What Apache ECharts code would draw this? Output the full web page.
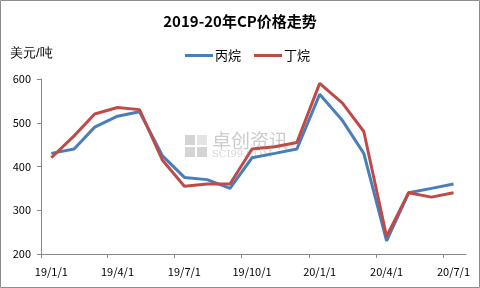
<!DOCTYPE html>
<html>
<head>
<meta charset="utf-8">
<script src="https://cdn.jsdelivr.net/npm/echarts@6/dist/echarts.min.js"></script>
<style>
html,body{margin:0;padding:0;background:#fff;}
#chart{width:480px;height:288px;}
</style>
</head>
<body>
<div id="chart"></div>
<script>
// Monthly CP prices (USD/t), Jan 2019 - Jul 2020
var months = ['2019-01','2019-02','2019-03','2019-04','2019-05','2019-06','2019-07','2019-08','2019-09','2019-10','2019-11','2019-12',
              '2020-01','2020-02','2020-03','2020-04','2020-05','2020-06','2020-07'];
var propane = [430, 440, 490, 515, 525, 425, 375, 370, 350, 420, 430, 440, 565, 505, 430, 230, 340, 350, 360];
var butane  = [420, 470, 520, 535, 530, 415, 355, 360, 360, 440, 445, 455, 590, 545, 480, 240, 340, 330, 340];
var tickDates = ['2019-01-01','2019-04-01','2019-07-01','2019-10-01','2020-01-01','2020-04-01','2020-07-01'];
var tickLabels = ['19/1/1','19/4/1','19/7/1','19/10/1','20/1/1','20/4/1','20/7/1'];
var seriesNames = ['丙烷','丁烷'];
var titleText = '2019-20年CP价格走势';
var unitText = '美元/吨';

var DAY = 86400000;
function ts(s){ var p = s.split('-'); return Date.UTC(+p[0], +p[1]-1, p[2] ? +p[2] : 1) / DAY; }
function mid(s){ var p = s.split('-'); return Date.UTC(+p[0], +p[1]-1, 15) / DAY; }

var tickVals = tickDates.map(ts);
var labelVals = tickDates.map(mid);
var labelMap = {};
labelVals.forEach(function(v,i){ labelMap[v] = tickLabels[i]; });

var font = '"Noto Sans CJK SC", "Noto Sans", sans-serif';
var chart = echarts.init(document.getElementById('chart'), null, {renderer:'canvas'});
chart.setOption({
  animation: false,
  backgroundColor: '#fff',
  textStyle: {fontFamily: font},
  title: {
    text: titleText, left: 'center', top: 9,
    textStyle: {fontSize: 15, fontWeight: 'bold', color: '#000', fontFamily: font}
  },
  legend: {
    data: seriesNames, top: 44, left: 180, itemWidth: 28, itemHeight: 3, itemGap: 13,
    icon: 'rect',
    textStyle: {fontSize: 13, color: '#000', fontFamily: font, padding: [0,0,0,-3]}
  },
  graphic: [
    {type: 'rect', shape: {x: 0.5, y: 0.5, width: 479, height: 287}, style: {fill: 'none', stroke: '#8c8c8c', lineWidth: 1}, silent: true, z: 100},
    {type: 'text', left: 10, top: 47, style: {text: unitText, fontSize: 13, fill: '#000', font: '13px ' + font}},
    {type: 'group', left: 185, top: 131, z: -1, silent: true, children: [
      {type: 'rect', shape: {x: 0, y: 2, width: 10, height: 10}, style: {fill: '#d4d4d4'}},
      {type: 'rect', shape: {x: 12, y: 2, width: 10, height: 10}, style: {fill: '#e4e4e4'}},
      {type: 'rect', shape: {x: 0, y: 14, width: 10, height: 10}, style: {fill: '#d4d4d4'}},
      {type: 'rect', shape: {x: 12, y: 14, width: 10, height: 10}, style: {fill: '#d4d4d4'}},
      {type: 'text', x: 27, y: -2, style: {text: '卓创资讯', font: '19px ' + font, fill: '#cccccc'}},
      {type: 'text', x: 27, y: 16, style: {text: 'SCI99.COM', font: '10px "DejaVu Serif", serif', fill: '#d6d6d6'}}
    ]}
  ],
  grid: {left: 41, right: 14, top: 79, bottom: 34, containLabel: false},
  xAxis: {
    type: 'value',
    min: ts('2019-01-01'), max: ts('2020-08-01'),
    axisLine: {lineStyle: {color: '#888', width: 1}},
    axisTick: {show: true, length: 4, lineStyle: {color: '#888'}, customValues: tickVals},
    axisLabel: {
      customValues: labelVals, margin: 12, fontSize: 11, color: '#000', fontFamily: font,
      formatter: function(v){ return labelMap[v] || ''; }
    },
    splitLine: {show: false}
  },
  yAxis: {
    type: 'value', min: 200, max: 600, interval: 100,
    axisLine: {show: true, lineStyle: {color: '#888', width: 1}},
    axisTick: {show: true, length: 4, lineStyle: {color: '#888'}},
    axisLabel: {margin: 10, fontSize: 11, color: '#000', fontFamily: font},
    splitLine: {show: false}
  },
  series: [
    {name: seriesNames[0], type: 'line', showSymbol: false, symbol: 'none',
     data: months.map(function(m,i){ return [mid(m), propane[i]]; }),
     lineStyle: {color: '#4a7ebb', width: 3}, itemStyle: {color: '#4a7ebb'}},
    {name: seriesNames[1], type: 'line', showSymbol: false, symbol: 'none',
     data: months.map(function(m,i){ return [mid(m), butane[i]]; }),
     lineStyle: {color: '#be4b48', width: 3}, itemStyle: {color: '#be4b48'}}
  ]
});
</script>
</body>
</html>
